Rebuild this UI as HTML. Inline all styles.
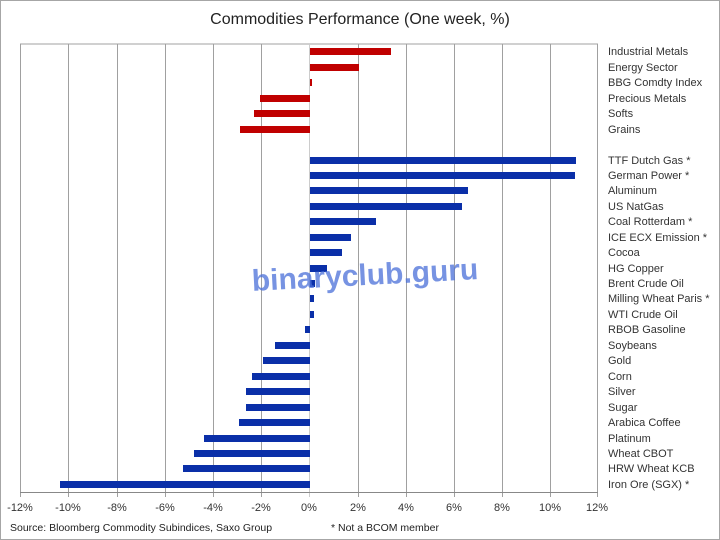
<!DOCTYPE html>
<html><head><style>
body{margin:0;background:#fff}
svg{display:block}
text{font-family:"Liberation Sans",sans-serif}
</style></head><body>
<svg width="720" height="540" xmlns="http://www.w3.org/2000/svg">
<rect x="0.5" y="0.5" width="719" height="539" fill="#fff" stroke="#a6a6a6"/>
<text x="360" y="24" font-size="16" text-anchor="middle" fill="#222">Commodities Performance (One week, %)</text>
<g stroke="#a0a0a0" stroke-width="1">
<line x1="20" y1="44" x2="598" y2="44"/>
<line x1="20.5" y1="44" x2="20.5" y2="497"/>
<line x1="68.5" y1="44" x2="68.5" y2="497"/>
<line x1="117.5" y1="44" x2="117.5" y2="497"/>
<line x1="165.5" y1="44" x2="165.5" y2="497"/>
<line x1="213.5" y1="44" x2="213.5" y2="497"/>
<line x1="261.5" y1="44" x2="261.5" y2="497"/>
<line x1="309.5" y1="44" x2="309.5" y2="497" stroke="#ccc"/>
<line x1="358.5" y1="44" x2="358.5" y2="497"/>
<line x1="406.5" y1="44" x2="406.5" y2="497"/>
<line x1="454.5" y1="44" x2="454.5" y2="497"/>
<line x1="502.5" y1="44" x2="502.5" y2="497"/>
<line x1="550.5" y1="44" x2="550.5" y2="497"/>
<line x1="597.5" y1="44" x2="597.5" y2="497"/>
<line x1="20" y1="492.5" x2="598" y2="492.5" stroke="#888"/>
</g>
<g font-size="11" fill="#333" text-anchor="middle">
<text x="20" y="511">-12%</text><text x="68" y="511">-10%</text><text x="117" y="511">-8%</text><text x="165" y="511">-6%</text><text x="213" y="511">-4%</text><text x="261" y="511">-2%</text><text x="309" y="511">0%</text><text x="358" y="511">2%</text><text x="406" y="511">4%</text><text x="454" y="511">6%</text><text x="502" y="511">8%</text><text x="550" y="511">10%</text><text x="597" y="511">12%</text>
</g>
<g fill="#c00000">
<rect x="310" y="48" width="81" height="7"/>
<rect x="310" y="64" width="49" height="7"/>
<rect x="310" y="79" width="2" height="7"/>
<rect x="260" y="95" width="50" height="7"/>
<rect x="254" y="110" width="56" height="7"/>
<rect x="240" y="126" width="70" height="7"/>
</g>
<g fill="#0a2fa8">
<rect x="310" y="157" width="266" height="7"/>
<rect x="310" y="172" width="265" height="7"/>
<rect x="310" y="187" width="158" height="7"/>
<rect x="310" y="203" width="152" height="7"/>
<rect x="310" y="218" width="66" height="7"/>
<rect x="310" y="234" width="41" height="7"/>
<rect x="310" y="249" width="32" height="7"/>
<rect x="310" y="265" width="17" height="7"/>
<rect x="310" y="280" width="5" height="7"/>
<rect x="310" y="295" width="4" height="7"/>
<rect x="310" y="311" width="4" height="7"/>
<rect x="305" y="326" width="5" height="7"/>
<rect x="275" y="342" width="35" height="7"/>
<rect x="263" y="357" width="47" height="7"/>
<rect x="252" y="373" width="58" height="7"/>
<rect x="246" y="388" width="64" height="7"/>
<rect x="246" y="404" width="64" height="7"/>
<rect x="239" y="419" width="71" height="7"/>
<rect x="204" y="435" width="106" height="7"/>
<rect x="194" y="450" width="116" height="7"/>
<rect x="183" y="465" width="127" height="7"/>
<rect x="60" y="481" width="250" height="7"/>
</g>
<g font-size="11" fill="#333">
<text x="608" y="55">Industrial Metals</text>
<text x="608" y="71">Energy Sector</text>
<text x="608" y="86">BBG Comdty Index</text>
<text x="608" y="102">Precious Metals</text>
<text x="608" y="117">Softs</text>
<text x="608" y="133">Grains</text>
<text x="608" y="164">TTF Dutch Gas *</text>
<text x="608" y="179">German Power *</text>
<text x="608" y="194">Aluminum</text>
<text x="608" y="210">US NatGas</text>
<text x="608" y="225">Coal Rotterdam *</text>
<text x="608" y="241">ICE ECX Emission *</text>
<text x="608" y="256">Cocoa</text>
<text x="608" y="272">HG Copper</text>
<text x="608" y="287">Brent Crude Oil</text>
<text x="608" y="302">Milling Wheat Paris *</text>
<text x="608" y="318">WTI Crude Oil</text>
<text x="608" y="333">RBOB Gasoline</text>
<text x="608" y="349">Soybeans</text>
<text x="608" y="364">Gold</text>
<text x="608" y="380">Corn</text>
<text x="608" y="395">Silver</text>
<text x="608" y="411">Sugar</text>
<text x="608" y="426">Arabica Coffee</text>
<text x="608" y="442">Platinum</text>
<text x="608" y="457">Wheat CBOT</text>
<text x="608" y="472">HRW Wheat KCB</text>
<text x="608" y="488">Iron Ore (SGX) *</text>
</g>
<text x="10" y="531" font-size="10.5" fill="#222">Source: Bloomberg Commodity Subindices, Saxo Group</text>
<text x="331" y="531" font-size="10.5" fill="#222">* Not a BCOM member</text>
<text x="365" y="285" font-size="30" font-weight="bold" fill="#4a6fd8" fill-opacity="0.75" text-anchor="middle" transform="rotate(-3 365 275)">binaryclub.guru</text>
</svg>
</body></html>
